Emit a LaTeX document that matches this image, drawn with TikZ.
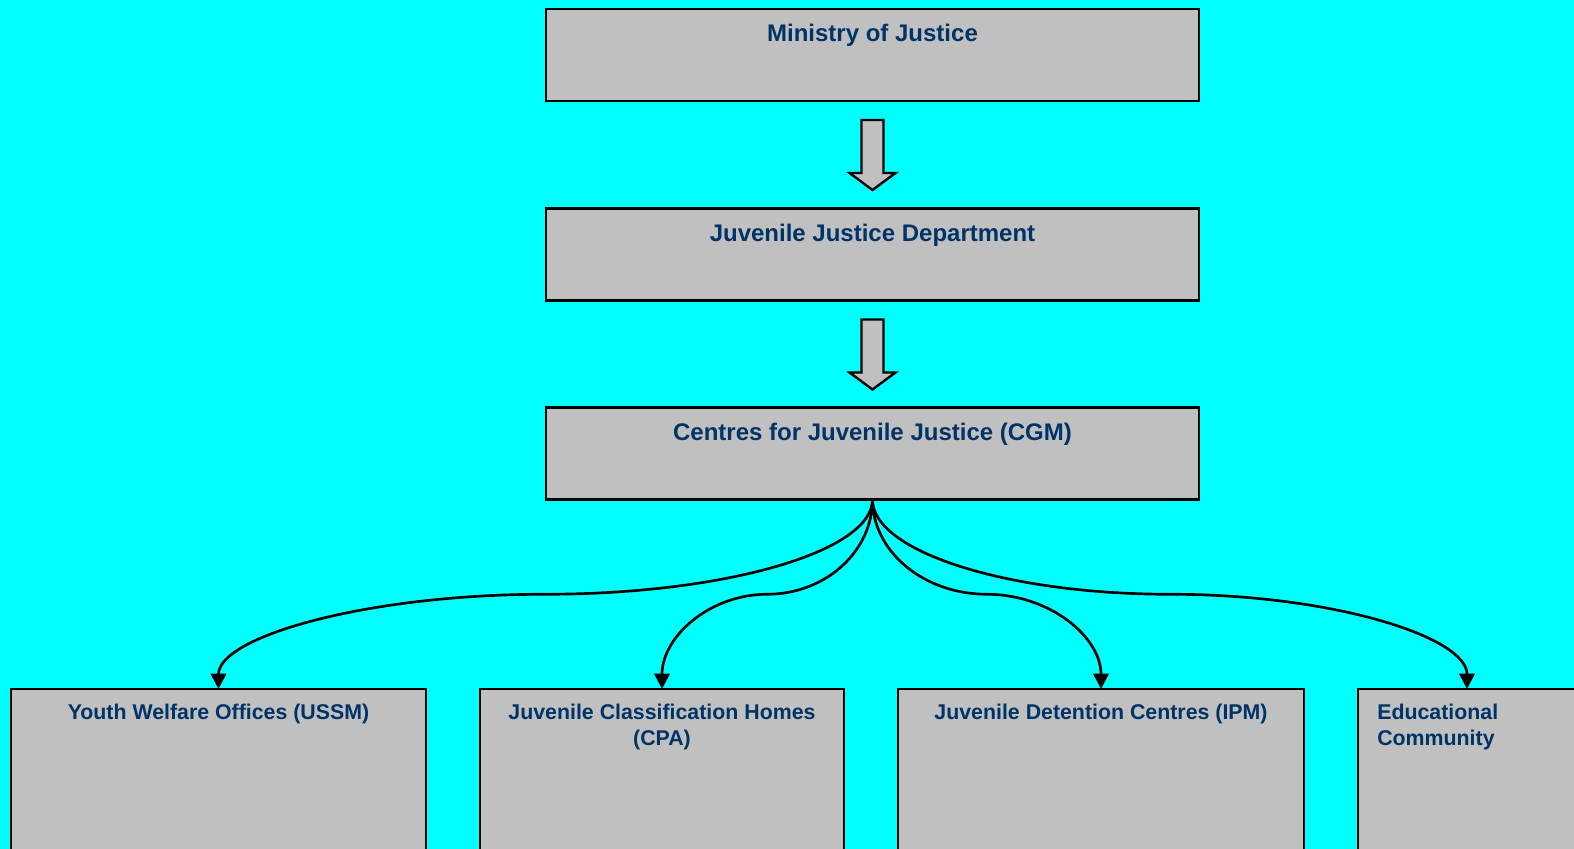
\documentclass[tikz,border=0pt]{standalone}
\usepackage{fontspec}
\setmainfont{Liberation Sans}
\usetikzlibrary{arrows.meta,calc}
\definecolor{bgc}{RGB}{0,255,255}
\definecolor{boxfill}{RGB}{192,192,192}
\definecolor{txtc}{RGB}{0,51,102}
\begin{document}
\begin{tikzpicture}[x=0.75pt,y=-0.75pt,
  box/.style={draw=black, line width=1.8pt, fill=boxfill, rectangle, inner sep=0pt, outer sep=0pt},
  topbox/.style={box, minimum width=489.75pt, minimum height=69pt},
  ttl/.style={anchor=base, inner sep=0pt, text=txtc, font=\fontsize{18pt}{21pt}\selectfont\bfseries},
  sub/.style={anchor=base, inner sep=0pt, text=txtc, align=center, font=\fontsize{16pt}{19.5pt}\selectfont\bfseries},
  blk/.style={draw=black, fill=boxfill, line width=1.8pt, line join=miter},
  conn/.style={draw=black, line width=2pt, -{Triangle[length=11.5pt,width=11.5pt]}}]
\useasboundingbox (0,0) rectangle (1574,849);
\fill[bgc] (0,0) rectangle (1574,849);
\clip (0,0) rectangle (1574,849);
% top boxes
\node[topbox] (b1) at (872.5,55) {};
\node[topbox] (b2) at (872.5,254.5) {};
\node[topbox] (b3) at (872.5,453.5) {};
% bottom boxes
\node[box, minimum width=311.25pt, minimum height=225pt] (u) at (218.5,839) {};
\node[box, minimum width=273pt, minimum height=225pt] (cpa) at (662,839) {};
\node[box, minimum width=304.5pt, minimum height=225pt] (ipm) at (1101,839) {};
\node[box, minimum width=163.5pt, minimum height=225pt] (edu) at (1467,839) {};
% texts
\node[ttl] (t1) at ($(b1.north)+(0,33)$) {Ministry of Justice};
\node[ttl] (t2) at ($(b2.north)+(0,33)$) {Juvenile Justice Department};
\node[ttl] (t3) at ($(b3.north)+(0,33)$) {Centres for Juvenile Justice (CGM)};
\node[sub] (tu) at ($(u.north)+(0,30)$) {Youth Welfare Offices (USSM)};
\node[sub] (tcpa) at ($(cpa.north)+(0,56)$) {Juvenile Classification Homes\\(CPA)};
\node[sub] (tipm) at ($(ipm.north)+(0,30)$) {Juvenile Detention Centres (IPM)};
\node[sub, anchor=base west, align=left] (tedu) at ($(edu.north west)+(19,56)$) {Educational\\Community};
% block arrows
\draw[blk] ($(b1.south)+(-11,19)$) -- ++(22,0) -- ++(0,53) -- ++(12,0) -- ++(-23,17) -- ++(-23,-17) -- ++(12,0) -- cycle;
\draw[blk] ($(b2.south)+(-11,19)$) -- ++(22,0) -- ++(0,53) -- ++(12,0) -- ++(-23,17) -- ++(-23,-17) -- ++(12,0) -- cycle;
% midpoints
\coordinate (m1) at ($(b3.south)!0.5!(u.north)$);
\coordinate (m2) at ($(b3.south)!0.5!(cpa.north)$);
\coordinate (m3) at ($(b3.south)!0.5!(ipm.north)$);
\coordinate (m4) at ($(b3.south)!0.5!(edu.north)$);
% connectors
\draw[conn] (b3.south) .. controls +(0,52) and +(180,0) .. (m1) .. controls +(-180,0) and +(0,-52) .. (u.north);
\draw[conn] (b3.south) .. controls +(0,52) and +(58,0) .. (m2) .. controls +(-58,0) and +(0,-52) .. (cpa.north);
\draw[conn] (b3.south) .. controls +(0,52) and +(-63,0) .. (m3) .. controls +(63,0) and +(0,-52) .. (ipm.north);
\draw[conn] (b3.south) .. controls +(0,52) and +(-163,0) .. (m4) .. controls +(163,0) and +(0,-52) .. (edu.north);
\end{tikzpicture}
\end{document}
